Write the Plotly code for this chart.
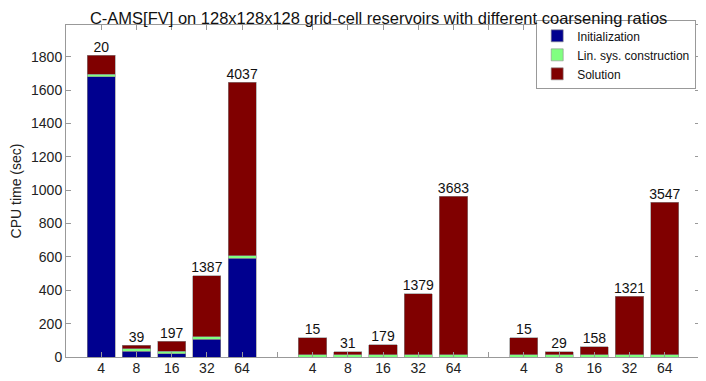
import plotly.graph_objects as go

# coarsening ratios and the three test reservoirs
ratios = [4, 8, 16, 32, 64]
n_groups = 3

# CPU time in seconds, stacked parts (group 1, group 2, group 3)
init_time = [1680, 35, 20, 106, 592,
             0, 0, 0, 0, 0,
             0, 0, 0, 0, 0]
linsys_time = [15, 15, 15, 15, 16,
               14, 14, 14, 14, 14,
               14, 14, 14, 14, 14]
solution_time = [115, 20, 59, 367, 1040,
                 102, 16, 58, 366, 950,
                 100, 16, 48, 350, 914]

# iteration counts printed above the bars
iterations = [20, 39, 197, 1387, 4037,
              15, 31, 179, 1379, 3683,
              15, 29, 158, 1321, 3547]

# bar positions: 5 bars per group, one empty slot between groups
xpos = [g * (len(ratios) + 1) + i + 1 for g in range(n_groups) for i in range(len(ratios))]
totals = [a + b + c for a, b, c in zip(init_time, linsys_time, solution_time)]

tickvals = list(range(1, xpos[-1] + 1))
ticktext = [str(ratios[(v - 1) % (len(ratios) + 1)]) if v in xpos else "" for v in tickvals]

edge = dict(color="#8c8c8c", width=0.6)
data = [
    go.Bar(x=xpos, y=init_time, name="Initialization", marker=dict(color="#00008f", line=edge), width=0.8),
    go.Bar(x=xpos, y=linsys_time, name="Lin. sys. construction", marker=dict(color="#80ff80", line=edge), width=0.8),
    go.Bar(x=xpos, y=solution_time, name="Solution", marker=dict(color="#800000", line=edge), width=0.8),
    go.Scatter(x=xpos, y=totals, mode="text", text=[str(v) for v in iterations],
               textposition="top center", textfont=dict(size=14, color="#111"),
               showlegend=False, hoverinfo="skip"),
]

axis_common = dict(showline=True, linecolor="#999", linewidth=1, mirror="ticks",
                   ticks="inside", ticklen=5, tickcolor="#999", showgrid=False,
                   zeroline=False, tickfont=dict(size=14, color="#222"))

# the page body adds an 8px margin, so the figure is 8px smaller each way
layout = go.Layout(
    title=dict(text="C-AMS[FV] on 128x128x128 grid-cell reservoirs with different coarsening ratios",
               x=0.531, xanchor="center", y=0.9732, yanchor="middle",
               font=dict(size=16.5, color="#111")),
    barmode="stack",
    width=698, height=373,
    margin=dict(l=48, r=5, t=17, b=24),
    plot_bgcolor="white", paper_bgcolor="white",
    font=dict(family="Liberation Sans, Arial, sans-serif", color="#222"),
    xaxis=dict(range=[0, xpos[-1] + 1], tickvals=tickvals, ticktext=ticktext,
               ticklabelstandoff=-2, **axis_common),
    yaxis=dict(range=[0, 1990], tickvals=list(range(0, 1801, 200)),
               title=dict(text="CPU time (sec)", font=dict(size=14, color="#222"), standoff=8),
               **axis_common),
    legend=dict(x=0.994, xanchor="right", y=1.014, yanchor="top",
                bordercolor="#999", borderwidth=1, bgcolor="white",
                font=dict(size=12, color="#111"), tracegroupgap=0, itemwidth=30,
                traceorder="normal"),
    showlegend=True,
)

fig = go.Figure(data=data, layout=layout)
fig.write_html("out.html")
